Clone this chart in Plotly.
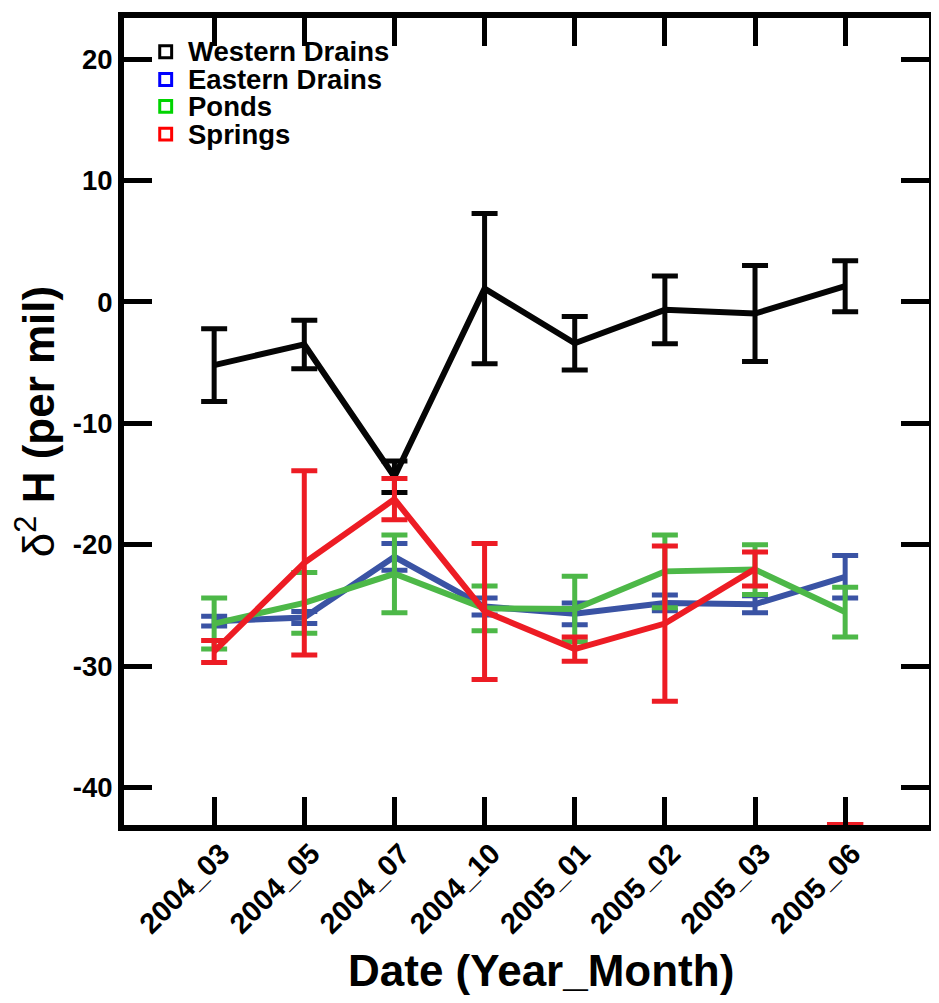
import plotly.graph_objects as go

dates = ["2004_03", "2004_05", "2004_07", "2004_10", "2005_01", "2005_02", "2005_03", "2005_06"]

western = [-5.2, -3.5, -14.4, 1.1, -3.4, -0.65, -0.95, 1.3]
western_err = [3.0, 2.0, 1.3, 6.2, 2.2, 2.8, 3.95, 2.1]

eastern = [-26.3, -26.0, -21.0, -25.1, -25.7, -24.8, -24.9, -22.65]
eastern_err = [0.4, 0.5, 1.1, 0.7, 0.9, 0.65, 0.7, 1.75]

ponds = [-26.5, -24.8, -22.4, -25.25, -25.3, -22.2, -22.05, -25.55]
ponds_err = [2.1, 2.5, 3.2, 1.85, 2.7, 3.0, 2.05, 2.05]

springs = [-28.8, -21.5, -16.25, -25.5, -28.6, -26.5, -22.0, None]
springs_err = [0.9, 7.6, 1.7, 5.6, 1.0, 6.4, 1.4, 0]
springs_cap_2005_06 = -43.1

series = [
    ("Western Drains", western, western_err, "#050505", "#000000"),
    ("Eastern Drains", eastern, eastern_err, "#3a53a4", "#0000ff"),
    ("Ponds", ponds, ponds_err, "#4db848", "#00d400"),
    ("Springs", springs, springs_err, "#ed1c24", "#ff0000"),
]

# figure geometry (browser body has an 8px margin)
W, H = 931, 995
ML, MR, MT, MB = 116, 4, 4, 178
PW, PH = W - ML - MR, H - MT - MB

xi = list(range(len(dates)))
fig = go.Figure()

for name, vals, errs, col, lcol in series:
    fig.add_trace(go.Scatter(
        x=xi, y=vals, mode="lines", name=name, showlegend=False,
        line=dict(color=col, width=6),
        error_y=dict(type="data", array=errs, visible=True, color=col, thickness=5, width=13),
    ))

# isolated springs cap at 2005_06
fig.add_trace(go.Scatter(
    x=[xi[-1]], y=[springs_cap_2005_06], mode="markers", showlegend=False,
    marker=dict(symbol="line-ew", size=26, line=dict(color="#ed1c24", width=6)),
    cliponaxis=False,
))

# legend drawn as squares + text (pixel positions within the plot area)
leg_sq_x = 42      # px from left plot edge
leg_txt_x = 62
leg_rows = [34, 62, 89, 117]  # px from top plot edge
half = 6
for (name, vals, errs, col, lcol), ry in zip(series, leg_rows):
    cx = leg_sq_x / PW
    cy = 1 - ry / PH
    fig.add_shape(type="rect", xref="paper", yref="paper",
                  x0=cx - half / PW, x1=cx + half / PW, y0=cy - half / PH, y1=cy + half / PH,
                  line=dict(color=lcol, width=3), fillcolor="rgba(0,0,0,0)")
    fig.add_annotation(xref="paper", yref="paper", x=leg_txt_x / PW, y=cy,
                       xanchor="left", yanchor="middle", showarrow=False, text=name,
                       font=dict(size=27.5, weight="bold", color="black"))

# x-axis title (placed slightly right of centre, as in the original)
fig.add_annotation(xref="paper", yref="paper", x=420 / PW, y=-147 / PH,
                   xanchor="center", yanchor="middle", showarrow=False,
                   text="Date (Year_Month)", font=dict(size=44, weight="bold", color="black"))

fig.update_layout(
    width=W, height=H,
    margin=dict(l=ML, r=MR, t=MT, b=MB),
    plot_bgcolor="white", paper_bgcolor="white",
    font=dict(family="Liberation Sans, Arial, sans-serif", color="black", size=27, weight="bold"),
    showlegend=False,
)

fig.update_xaxes(
    range=[-1.0, 7.93], tickmode="array", tickvals=xi, ticktext=dates,
    tickangle=-45, ticks="inside", ticklen=28, tickwidth=5, tickcolor="black",
    showline=True, linewidth=6, linecolor="black", mirror="ticks",
    showgrid=False, zeroline=False,
    tickfont=dict(size=29, weight="bold"),
    ticklabelshift=7, ticklabelstandoff=-6,
)
fig.update_yaxes(
    range=[-43.1, 23.4], tickmode="array", tickvals=[20, 10, 0, -10, -20, -30, -40],
    ticktext=["20", "10", "0", "-10", "-20", "-30", "-40"],
    ticks="inside", ticklen=28, tickwidth=5, tickcolor="black",
    showline=True, linewidth=6, linecolor="black", mirror="ticks",
    showgrid=False, zeroline=False,
    tickfont=dict(size=27.5, weight="bold"),
    title=dict(text="δ<sup>2</sup> <b>H (per mil)</b>",
               font=dict(size=44, weight="normal"), standoff=6),
)

fig.write_html("out.html")
